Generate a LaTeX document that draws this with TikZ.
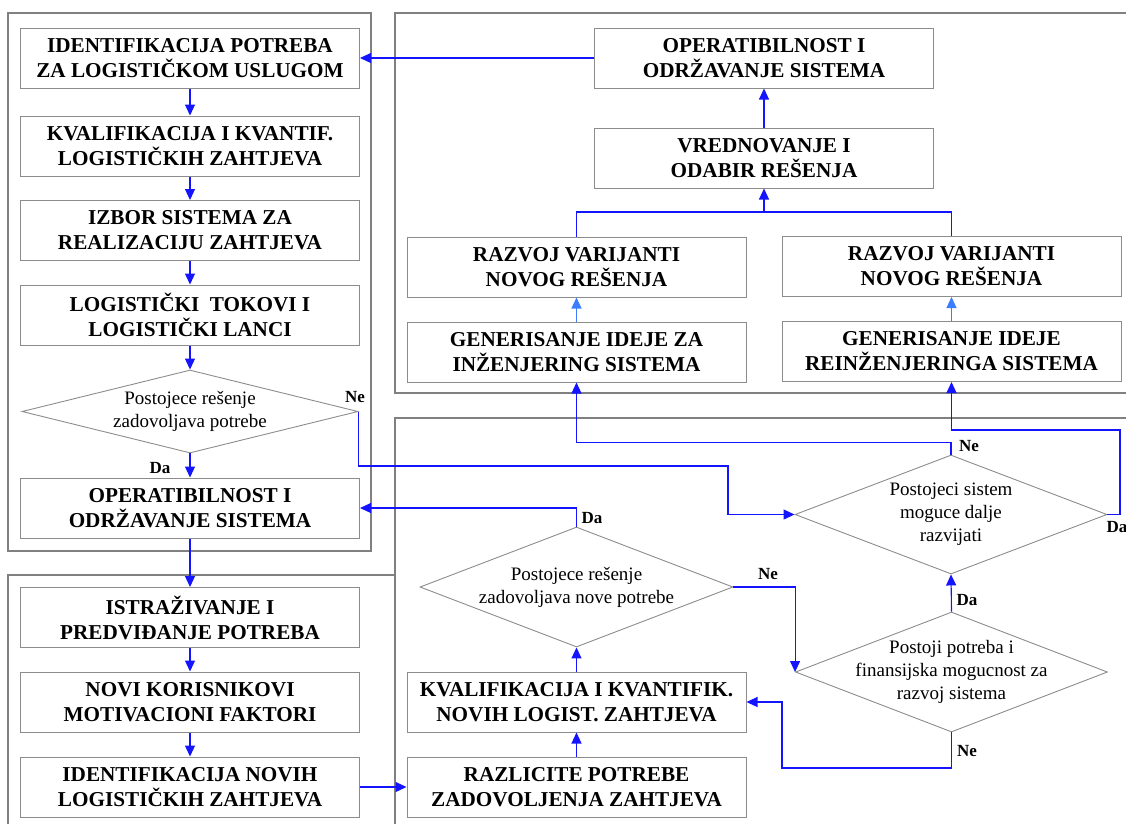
\documentclass[tikz,border=0pt]{standalone}
\usepackage{fontspec}
\setmainfont{Liberation Serif}
\usetikzlibrary{arrows.meta,shapes.geometric}
\definecolor{framegray}{RGB}{128,128,128}
\definecolor{boxgray}{RGB}{140,140,140}
\definecolor{flowblue}{RGB}{20,20,255}
\definecolor{softblue}{RGB}{60,125,255}
\begin{document}
\begin{tikzpicture}[x=1pt,y=-1pt,
  frame/.style={draw=framegray,line width=2.6pt},
  stepbox/.style={draw=boxgray,line width=1pt,rectangle,inner sep=0pt,
    minimum width=339pt,minimum height=60pt,align=center,
    font=\bfseries\fontsize{21.2}{25}\selectfont},
  decision/.style={draw=boxgray,line width=0.9pt,diamond,inner sep=0pt},
  qtext/.style={align=center,inner sep=0pt,font=\fontsize{19}{23}\selectfont},
  answer/.style={inner sep=0pt,font=\bfseries\fontsize{17}{18}\selectfont},
  flow/.style={draw=flowblue,line width=1.1pt},
  arr/.style={flow,-{Triangle[length=11pt,width=10pt]}},
  softarr/.style={draw=softblue,line width=1.1pt,-{Triangle[length=11pt,width=10pt]}}]
\useasboundingbox (0,0) rectangle (1126,823);
\clip (0,0) rectangle (1126,823);

% group frames
\draw[frame] (8,13) rectangle (371,551);
\draw[frame] (395,13) rectangle (1140,393);
\draw[frame] (395,418) rectangle (1140,840);
\draw[frame] (395,575) -- (8,575) -- (8,840);

% left column
\node[stepbox] (b1) at (190,58) {IDENTIFIKACIJA POTREBA\\ZA LOGISTIČKOM USLUGOM};
\node[stepbox] (b2) at (190,146) {KVALIFIKACIJA I KVANTIF.\\LOGISTIČKIH ZAHTJEVA};
\node[stepbox] (b3) at (190,230.5) {IZBOR SISTEMA ZA\\REALIZACIJU ZAHTJEVA};
\node[stepbox] (b4) at (190,315) {LOGISTIČKI\ \ TOKOVI I\\LOGISTIČKI LANCI};
\node[decision,minimum width=336pt,minimum height=83pt] (d1) at (190,411.5) {};
\node[qtext] (d1t) at (d1.center) {Postojece rešenje\\zadovoljava potrebe};
\node[stepbox] (b5) at (190,508) {OPERATIBILNOST I\\ODRŽAVANJE SISTEMA};
\node[stepbox] (b6) at (190,617.5) {ISTRAŽIVANJE I\\PREDVIĐANJE POTREBA};
\node[stepbox] (b7) at (190,702) {NOVI KORISNIKOVI\\MOTIVACIONI FAKTORI};
\node[stepbox] (b8) at (190,787) {IDENTIFIKACIJA NOVIH\\LOGISTIČKIH ZAHTJEVA};

% upper right group
\node[stepbox] (t1) at (764,58) {OPERATIBILNOST I\\ODRŽAVANJE SISTEMA};
\node[stepbox] (t2) at (764,158) {VREDNOVANJE I\\ODABIR REŠENJA};
\node[stepbox] (t3) at (576.5,267) {RAZVOJ VARIJANTI\\NOVOG REŠENJA};
\node[stepbox] (t4) at (576.5,352) {GENERISANJE IDEJE ZA\\INŽENJERING SISTEMA};
\node[stepbox] (t5) at (951.5,266.5) {RAZVOJ VARIJANTI\\NOVOG REŠENJA};
\node[stepbox] (t6) at (951.5,351.5) {GENERISANJE IDEJE\\REINŽENJERINGA SISTEMA};

% lower right group
\node[decision,minimum width=312pt,minimum height=119pt] (d2) at (951,514.5) {};
\node[qtext] (d2t) at (d2.center) {Postojeci sistem\\moguce dalje\\razvijati};
\node[decision,minimum width=312pt,minimum height=120pt] (d3) at (951.5,672) {};
\node[qtext] (d3t) at (d3.center) {Postoji potreba i\\finansijska mogucnost za\\razvoj sistema};
\node[decision,minimum width=313pt,minimum height=120pt] (d4) at (576.5,587) {};
\node[qtext] (d4t) at (d4.center) {Postojece rešenje\\zadovoljava nove potrebe};
\node[stepbox] (k1) at (576.5,702) {KVALIFIKACIJA I KVANTIFIK.\\NOVIH LOGIST. ZAHTJEVA};
\node[stepbox] (k2) at (576.5,787) {RAZLICITE POTREBE\\ZADOVOLJENJA ZAHTJEVA};

% routing points
\coordinate (c1) at (782,768);
\coordinate (c2) at (728,466);
\coordinate (c4) at (1120,430);
\coordinate (j) at (764,212);

% connectors: left column
\draw[arr] (t1.west) -- (b1.east);
\draw[arr] (b1.south) -- (b2.north);
\draw[arr] (b2.south) -- (b3.north);
\draw[arr] (b3.south) -- (b4.north);
\draw[arr] (b4.south) -- (d1.north);
\draw[arr] (d1.south) -- (b5.north);
\draw[arr] (b5.south) -- (b6.north);
\draw[arr] (b6.south) -- (b7.north);
\draw[arr] (b7.south) -- (b8.north);
\draw[arr] (b8.east) -- (k2.west);

% connectors: lower right
\draw[arr] (k2.north) -- (k1.south);
\draw[arr] (k1.north) -- (d4.south);
\draw[arr] (d4.north) |- (b5.east);
\draw[arr] (d4.east) -| (d3.west);
\draw[arr] (d3.south) |- (c1) |- (k1.east);
\draw[arr] (d3.north) -- (d2.south);
\draw[arr] (d1.east) |- (c2) |- (d2.west);
\draw[arr] (d2.north) -- ++(0,-12) -| (t4.south);
\draw[arr] (d2.east) -| (c4) -| (t6.south);

% connectors: upper right
\draw[softarr] (t4.north) -- (t3.south);
\draw[softarr] (t6.north) -- (t5.south);
\draw[flow] (t3.north) |- (j);
\draw[flow] (t5.north) |- (j);
\draw[arr] (j) -- (t2.south);
\draw[arr] (t2.north) -- (t1.south);

% answers
\node[answer] (a1) at (355,397) {Ne};
\node[answer] (a2) at (160,468) {Da};
\node[answer] (a3) at (592,518) {Da};
\node[answer] (a4) at (768,574) {Ne};
\node[answer] (a5) at (969,446) {Ne};
\node[answer] (a6) at (1117,527) {Da};
\node[answer] (a7) at (967,600) {Da};
\node[answer] (a8) at (967,751) {Ne};
\end{tikzpicture}
\end{document}
